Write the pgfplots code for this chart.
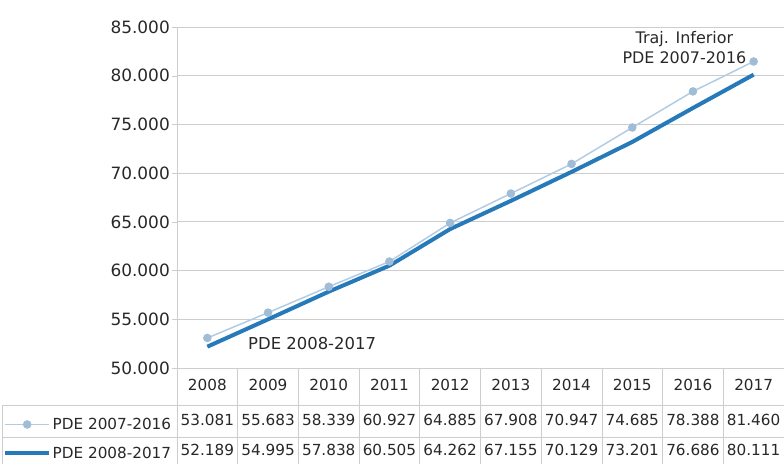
\documentclass[border=0pt]{standalone}
\usepackage{fontspec}
\setmainfont{DejaVu Sans}
\usepackage{pgfplots}
\pgfplotsset{compat=1.18}
\definecolor{lightser}{RGB}{178,204,228}
\definecolor{lightmark}{RGB}{160,188,214}
\definecolor{darkser}{RGB}{38,122,186}
\definecolor{txt}{RGB}{40,40,40}
\definecolor{gridc}{RGB}{205,205,205}
\begin{document}
\begin{tikzpicture}
\useasboundingbox (-177bp,-96bp) rectangle (607bp,368bp);
\begin{axis}[
  at={(0,0)}, anchor=south west,
  width=607bp, height=341bp, scale only axis,
  clip=false,
  xmin=-0.5, xmax=9.5,
  ymin=50000, ymax=85000,
  ytick={50000,55000,...,85000},
  xtick={0,...,9},
  xticklabels={{2008\\[5bp]53.081\\52.189},{2009\\[5bp]55.683\\54.995},{2010\\[5bp]58.339\\57.838},{2011\\[5bp]60.927\\60.505},{2012\\[5bp]64.885\\64.262},{2013\\[5bp]67.908\\67.155},{2014\\[5bp]70.947\\70.129},{2015\\[5bp]74.685\\73.201},{2016\\[5bp]78.388\\76.686},{2017\\[5bp]81.460\\80.111}},
  xticklabel style={align=center, anchor=north, inner sep=0pt, yshift=-6.3bp, font=\fontsize{15.3}{30}\selectfont, text=txt},
  xtick style={draw=none},
  axis lines=left,
  axis line style={-, draw=gridc},
  x axis line style={draw=none},
  ymajorgrids, grid style={gridc, line width=0.8bp},
  tick align=outside, major tick length=5bp,
  ytick style={draw=gridc},
  yticklabel style={font=\fontsize{17}{20}\selectfont, text=txt, inner sep=0pt, xshift=-2bp,
     /pgf/number format/.cd, fixed, 1000 sep={.}, assume math mode=true},
  scaled y ticks=false,
  legend cell align=left,
  legend style={draw=none, fill=none, at={(rel axis cs:-0.2916,-0.136)}, anchor=north west,
     font=\fontsize{15.3}{18}\selectfont, text=txt, row sep=13bp,
     nodes={inner sep=1.5bp}},
  legend image code/.code={\draw[mark repeat=2, mark phase=2, #1] plot coordinates {(0bp,0bp) (22bp,0bp) (44bp,0bp)};},
]
\addplot[lightser, line width=1.5bp, mark=*, mark size=3.5bp, mark options={fill=lightmark, draw=lightmark}]
  coordinates {(0,53081) (1,55683) (2,58339) (3,60927) (4,64885) (5,67908) (6,70947) (7,74685) (8,78388) (9,81460)};
\addlegendentry{PDE 2007-2016}
\addplot[darkser, line width=4bp, no marks]
  coordinates {(0,52189) (1,54995) (2,57838) (3,60505) (4,64262) (5,67155) (6,70129) (7,73201) (8,76686) (9,80111)};
\addlegendentry{PDE 2008-2017}
% table grid
\foreach \k in {-0.5,0.5,1.5,2.5,3.5,4.5,5.5,6.5,7.5,8.5,9.5} {
  \edef\temp{\noexpand\draw[gridc, line width=0.8bp] (axis cs:\k,50000) -- (axis cs:\k,39000);}
  \temp
}
\draw[gridc, line width=0.8bp] (axis cs:-3.38,46202) -- (axis cs:9.5,46202);
\draw[gridc, line width=0.8bp] (axis cs:-3.38,42918) -- (axis cs:9.5,42918);
\draw[gridc, line width=0.8bp] (axis cs:-3.38,46202) -- (axis cs:-3.38,39000);
% annotations
\node[anchor=west, inner sep=0pt, text=txt, font=\fontsize{16.5}{20}\selectfont] at (axis cs:0.67,52560) {PDE 2008-2017};
\node[align=center, inner sep=0pt, text=txt, font=\fontsize{16}{20}\selectfont] at (axis cs:7.86,82850) {Traj. Inferior\\PDE 2007-2016};
\end{axis}
\end{tikzpicture}
\end{document}
